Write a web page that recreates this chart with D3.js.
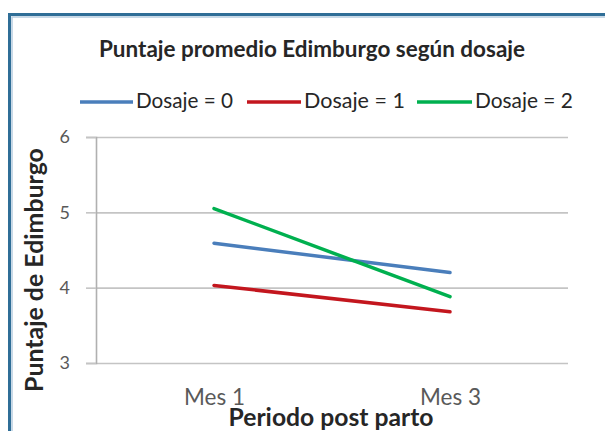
<!DOCTYPE html>
<html>
<head>
<meta charset="utf-8">
<script src="https://cdn.jsdelivr.net/npm/d3@7"></script>
<style>
  html, body { margin: 0; padding: 0; background: #fff; }
  svg { display: block; }
  text { font-family: Lato, "Open Sans", sans-serif; }
</style>
</head>
<body>
<svg id="chart" width="605" height="431"></svg>
<script>
// Mean Edinburgh score by dose, months 1 and 3 post partum
const periods = ["Mes 1", "Mes 3"];
const seriesNames = ["Dosaje = 0", "Dosaje = 1", "Dosaje = 2"];
const dose0 = [4.59, 4.20];
const dose1 = [4.03, 3.68];
const dose2 = [5.05, 3.88];
const yTicks = [3, 4, 5, 6];
const seriesColors = ["#4a7ebb", "#c3161e", "#00b04f"];

const svg = d3.select("#chart");

// frame of the chart area
svg.append("rect").attr("x", 9.5).attr("y", 14.5).attr("width", 700).attr("height", 500)
  .attr("fill", "#fff").attr("stroke", "#2f6e97").attr("stroke-width", 3);
svg.append("rect").attr("x", 12).attr("y", 17).attr("width", 700).attr("height", 500)
  .attr("fill", "none").attr("stroke", "#b7cde0").attr("stroke-width", 1.5);

// shrink/grow a text node's font so it spans the given width
function fitWidth(sel, width) {
  const node = sel.node();
  const fs = parseFloat(sel.attr("font-size"));
  const w = node.getComputedTextLength();
  if (w > 0) sel.attr("font-size", (fs * width / w).toFixed(2));
  return sel;
}

const plotLeft = 96, plotRight = 568, plotTop = 137, plotBottom = 363;

const x = d3.scalePoint().domain(periods).range([plotLeft, plotRight]).padding(0.5);
const y = d3.scaleLinear().domain([3, 6]).range([plotBottom, plotTop]);

// horizontal gridlines
svg.append("g")
  .attr("transform", `translate(${plotLeft},0)`)
  .call(d3.axisLeft(y).tickValues(yTicks).tickSize(-(plotRight - plotLeft)).tickFormat(""))
  .call(g => g.select(".domain").remove())
  .call(g => g.selectAll("line").attr("stroke", "#c4c4c4").attr("stroke-width", 1.6));

// y axis with outer ticks and labels
svg.append("g")
  .attr("transform", `translate(${plotLeft},0)`)
  .call(d3.axisLeft(y).tickValues(yTicks).tickSize(10).tickPadding(16).tickFormat(d3.format("d")))
  .call(g => g.select(".domain").attr("stroke", "#b0b0b0").attr("stroke-width", 1.6))
  .call(g => g.selectAll("line").attr("stroke", "#c4c4c4").attr("stroke-width", 1.6))
  .call(g => g.selectAll("text").attr("font-size", 18).attr("fill", "#595959")
    .attr("font-family", "Lato, sans-serif"));

// x axis labels
svg.append("g")
  .attr("transform", `translate(0,${plotBottom})`)
  .call(d3.axisBottom(x).tickSize(0).tickPadding(26))
  .call(g => g.select(".domain").remove())
  .call(g => g.selectAll("text").attr("font-size", 18).attr("fill", "#595959")
    .attr("font-family", "Lato, sans-serif")
    .each(function () { fitWidth(d3.select(this), 61); }));

// series lines
const allSeries = [dose0, dose1, dose2];
const line = d3.line().x((d, i) => x(periods[i])).y(d => y(d));
svg.append("g").selectAll("path")
  .data(allSeries)
  .join("path")
  .attr("d", d => line(d))
  .attr("fill", "none")
  .attr("stroke", (d, i) => seriesColors[i])
  .attr("stroke-width", 3.5)
  .attr("stroke-linecap", "round");

// title
const title = svg.append("text")
  .attr("x", 312).attr("y", 57)
  .attr("text-anchor", "middle")
  .attr("font-size", 15).attr("font-weight", "bold").attr("fill", "#262626")
  .text("Puntaje promedio Edimburgo según dosaje");
fitWidth(title, 426);

// legend
const legendItems = [
  { x1: 80, x2: 133, tx: 136, w: 97 },
  { x1: 247, x2: 301, tx: 304, w: 101 },
  { x1: 417, x2: 472, tx: 475, w: 98 }
];
const legend = svg.append("g");
legendItems.forEach((it, i) => {
  legend.append("line")
    .attr("x1", it.x1).attr("x2", it.x2).attr("y1", 102).attr("y2", 102)
    .attr("stroke", seriesColors[i]).attr("stroke-width", 3.5);
  const t = legend.append("text")
    .attr("x", it.tx).attr("y", 108)
    .attr("font-size", 17).attr("fill", "#262626")
    .text(seriesNames[i]);
  fitWidth(t, it.w);
});

// axis titles
const yTitle = svg.append("text")
  .attr("transform", `translate(43,270) rotate(-90)`)
  .attr("text-anchor", "middle")
  .attr("font-size", 17).attr("font-weight", "bold").attr("fill", "#262626")
  .text("Puntaje de Edimburgo");
fitWidth(yTitle, 244);

const xTitle = svg.append("text")
  .attr("x", 331).attr("y", 426)
  .attr("text-anchor", "middle")
  .attr("font-size", 18).attr("font-weight", "bold").attr("fill", "#262626")
  .text("Periodo post parto");
fitWidth(xTitle, 205);
</script>
</body>
</html>
